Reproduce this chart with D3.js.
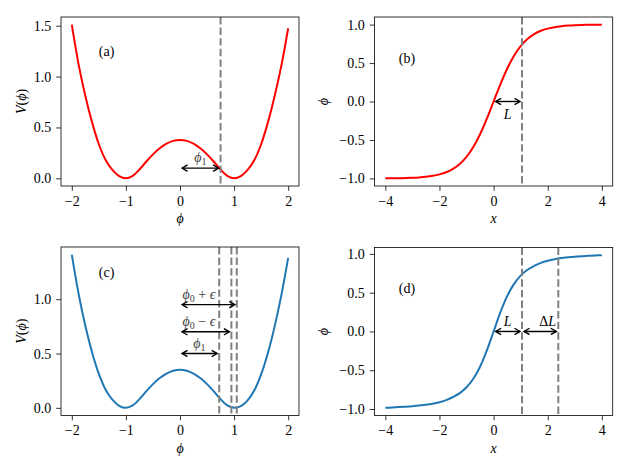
<!DOCTYPE html>
<html>
<head>
<meta charset="utf-8">
<title>Double well potential and kink profiles</title>
<script src="https://cdn.jsdelivr.net/npm/d3@7"></script>
<style>
  html, body { margin: 0; padding: 0; background: #fff; }
  text { font-family: "Liberation Serif", "DejaVu Serif", serif; font-size: 14px; fill: #000; }
  .axis path, .axis line { stroke: #000; stroke-width: 0.8px; }
  .frame { fill: none; stroke: #000; stroke-width: 0.8px; }
  .curve { fill: none; stroke-width: 2px; }
  .guide { stroke: #808080; stroke-width: 2px; stroke-dasharray: 7.4, 3.2; }
  .arrow { stroke: #000; stroke-width: 1.4px; fill: none; }
  .note { fill: #444; }
</style>
</head>
<body>
<script>
// field values, potential panels (a) and (c)
var phiGrid = [-2, -1.875, -1.75, -1.625, -1.5, -1.375, -1.25, -1.125, -1,
               -0.875, -0.75, -0.625, -0.5, -0.375, -0.25, -0.125, 0,
               0.125, 0.25, 0.375, 0.5, 0.625, 0.75, 0.875, 1,
               1.125, 1.25, 1.375, 1.5, 1.625, 1.75, 1.875, 2];
var potentialA = [1.51, 1.12, 0.81, 0.55, 0.335, 0.18, 0.083, 0.022, 0,
                  0.024, 0.086, 0.163, 0.235, 0.295, 0.34, 0.368, 0.377,
                  0.368, 0.34, 0.295, 0.235, 0.163, 0.086, 0.024, 0,
                  0.022, 0.083, 0.18, 0.335, 0.55, 0.81, 1.11, 1.475];
var potentialC = [1.41, 1.05, 0.755, 0.51, 0.312, 0.167, 0.075, 0.019, 0,
                  0.022, 0.08, 0.151, 0.218, 0.274, 0.316, 0.342, 0.35,
                  0.342, 0.316, 0.274, 0.218, 0.151, 0.08, 0.022, 0,
                  0.015, 0.068, 0.162, 0.308, 0.505, 0.75, 1.04, 1.38];

// position values, kink panels (b) and (d)
var xGrid = [-4, -3.75, -3.5, -3.25, -3, -2.75, -2.5, -2.25, -2,
             -1.75, -1.5, -1.25, -1, -0.75, -0.5, -0.25, 0,
             0.25, 0.5, 0.75, 1, 1.25, 1.5, 1.75, 2,
             2.25, 2.5, 2.75, 3, 3.25, 3.5, 3.75, 4];
var kinkB = [-0.999, -0.998, -0.997, -0.995, -0.992, -0.987, -0.979, -0.967, -0.948,
             -0.920, -0.877, -0.813, -0.721, -0.593, -0.426, -0.223, 0,
             0.223, 0.426, 0.593, 0.721, 0.813, 0.877, 0.920, 0.948,
             0.967, 0.979, 0.987, 0.992, 0.995, 0.997, 0.998, 0.999];
var kinkD = [-0.985, -0.979, -0.975, -0.970, -0.964, -0.956, -0.946, -0.932, -0.912,
             -0.885, -0.845, -0.795, -0.72, -0.61, -0.455, -0.245, 0,
             0.245, 0.455, 0.61, 0.72, 0.795, 0.845, 0.885, 0.912,
             0.932, 0.946, 0.956, 0.964, 0.970, 0.975, 0.979, 0.984];

// ticks
var phiTicks = [-2, -1, 0, 1, 2];
var vTicksA = [0, 0.5, 1.0, 1.5];
var vTicksC = [0, 0.5, 1.0];
var xTicks = [-4, -2, 0, 2, 4];
var kinkTicks = [-1, -0.5, 0, 0.5, 1];

// vertical dashed guides
var guidesA = [0.75];
var guidesB = [1.05];
var guidesC = [0.725, 0.95, 1.05];
var guidesD = [1.05, 2.39];

// double arrows: [from, to, level]
var arrowsA = [[0, 0.75, 0.1]];
var arrowsB = [[0, 1.05, 0]];
var arrowsC = [[0, 1.05, 0.95], [0, 0.95, 0.7], [0, 0.725, 0.5]];
var arrowsD = [[0, 1.05, 0], [1.05, 2.39, 0]];

var red = "#ff0000", blue = "#1f77b4";

var svg = d3.select("body").append("svg")
    .attr("width", 631).attr("height", 473);

svg.append("defs").append("marker")
    .attr("id", "head")
    .attr("markerUnits", "userSpaceOnUse")
    .attr("viewBox", "-1 -4 8 8")
    .attr("markerWidth", 8).attr("markerHeight", 8)
    .attr("refX", 5.5).attr("refY", 0)
    .attr("orient", "auto-start-reverse")
    .append("path")
    .attr("d", "M0,-3.2L5.5,0L0,3.2")
    .attr("fill", "none").attr("stroke", "#000").attr("stroke-width", 1.4);

// label helpers: parts = [[text, "i"|"r"|"sub"], ...]
function richText(t, parts) {
    var sub = false;
    parts.forEach(function(p) {
        var s = t.append("tspan").text(p[0]);
        if (p[1] === "i") s.style("font-style", "italic");
        if (p[1] === "sub") {
            s.style("font-size", "10px").attr("dy", 3);
            sub = true;
        } else if (sub) {
            s.attr("dy", -3);
            sub = false;
        }
    });
    return t;
}

var phiSym = "\u03d5", eps = "\u03f5";

function panel(cfg) {
    var b = cfg.box;
    var g = svg.append("g");
    var pad = function(ext) { var d = (ext[1] - ext[0]) * 0.05; return [ext[0] - d, ext[1] + d]; };
    var x = d3.scaleLinear().domain(pad(d3.extent(cfg.xs))).range([b[0], b[2]]);
    var y = d3.scaleLinear().domain(pad(d3.extent(cfg.ys))).range([b[3], b[1]]);

    g.append("g").attr("class", "axis")
        .attr("transform", "translate(0," + b[3] + ")")
        .call(d3.axisBottom(x).tickValues(cfg.xTicks).tickFormat(d3.format("d"))
            .tickSize(4.8).tickSizeOuter(0).tickPadding(5))
        .call(function(a) { a.select(".domain").remove(); })
        .attr("font-size", null).attr("font-family", null);
    g.append("g").attr("class", "axis")
        .attr("transform", "translate(" + b[0] + ",0)")
        .call(d3.axisLeft(y).tickValues(cfg.yTicks).tickFormat(d3.format(".1f"))
            .tickSize(4.8).tickSizeOuter(0).tickPadding(5))
        .call(function(a) { a.select(".domain").remove(); })
        .attr("font-size", null).attr("font-family", null);

    var line = d3.line()
        .x(function(d, i) { return x(cfg.xs[i]); })
        .y(function(d) { return y(d); })
        .curve(d3.curveCatmullRom.alpha(0.5));
    g.append("path").attr("class", "curve")
        .attr("d", line(cfg.ys)).attr("stroke", cfg.color);

    g.selectAll(".guide").data(cfg.guides).enter().append("line")
        .attr("class", "guide")
        .attr("x1", function(d) { return x(d); }).attr("x2", function(d) { return x(d); })
        .attr("y1", b[1]).attr("y2", b[3]);

    g.selectAll(".arrow").data(cfg.arrows).enter().append("line")
        .attr("class", "arrow")
        .attr("x1", function(d) { return x(d[0]) + 2; })
        .attr("x2", function(d) { return x(d[1]) - 2; })
        .attr("y1", function(d) { return y(d[2]); })
        .attr("y2", function(d) { return y(d[2]); })
        .attr("marker-start", "url(#head)")
        .attr("marker-end", "url(#head)");

    cfg.notes.forEach(function(n) {
        richText(g.append("text").attr("class", n.cls || "")
            .attr("text-anchor", n.anchor || "middle")
            .attr("x", x(n.at[0])).attr("y", y(n.at[1]) + n.dy), n.parts);
    });

    g.append("rect").attr("class", "frame")
        .attr("x", b[0]).attr("y", b[1])
        .attr("width", b[2] - b[0]).attr("height", b[3] - b[1]);

    richText(g.append("text").attr("text-anchor", "middle")
        .attr("x", (b[0] + b[2]) / 2).attr("y", b[3] + 37), cfg.xLabel);
    richText(g.append("text").attr("text-anchor", "middle")
        .attr("transform", "translate(" + cfg.yLabelX + "," + ((b[1] + b[3]) / 2) + ") rotate(-90)"),
        cfg.yLabel);
}

var vLabel = [["V", "i"], ["(", "r"], [phiSym, "i"], [")", "r"]];

panel({
    box: [61, 17, 299, 186], xs: phiGrid, ys: potentialA, color: red,
    xTicks: phiTicks, yTicks: vTicksA, guides: guidesA, arrows: arrowsA,
    xLabel: [[phiSym, "i"]], yLabel: vLabel, yLabelX: 26,
    notes: [
        {at: [-1.5, 1.2], dy: 0, anchor: "start", parts: [["(a)", "r"]]},
        {at: [0.375, 0.1], dy: -6.5, cls: "note", parts: [[phiSym, "i"], ["1", "sub"]]}
    ]
});
panel({
    box: [374.5, 17, 612.7, 186], xs: xGrid, ys: kinkB, color: red,
    xTicks: xTicks, yTicks: kinkTicks, guides: guidesB, arrows: arrowsB,
    xLabel: [["x", "i"]], yLabel: [[phiSym, "i"]], yLabelX: 328,
    notes: [
        {at: [-3.5, 0.5], dy: 0, anchor: "start", parts: [["(b)", "r"]]},
        {at: [0.52, 0], dy: 17, parts: [["L", "i"]]}
    ]
});
panel({
    box: [61, 247, 299, 415.5], xs: phiGrid, ys: potentialC, color: blue,
    xTicks: phiTicks, yTicks: vTicksC, guides: guidesC, arrows: arrowsC,
    xLabel: [[phiSym, "i"]], yLabel: vLabel, yLabelX: 26,
    notes: [
        {at: [-1.5, 1.2], dy: 0, anchor: "start", parts: [["(c)", "r"]]},
        {at: [0.35, 0.95], dy: -6, cls: "note", parts: [[phiSym, "i"], ["0", "sub"], [" + ", "r"], [eps, "i"]]},
        {at: [0.35, 0.7], dy: -6, cls: "note", parts: [[phiSym, "i"], ["0", "sub"], [" \u2212 ", "r"], [eps, "i"]]},
        {at: [0.36, 0.5], dy: -6, cls: "note", parts: [[phiSym, "i"], ["1", "sub"]]}
    ]
});
panel({
    box: [374.5, 247.5, 612.7, 415.5], xs: xGrid, ys: kinkD, color: blue,
    xTicks: xTicks, yTicks: kinkTicks, guides: guidesD, arrows: arrowsD,
    xLabel: [["x", "i"]], yLabel: [[phiSym, "i"]], yLabelX: 328,
    notes: [
        {at: [-3.5, 0.5], dy: 0, anchor: "start", parts: [["(d)", "r"]]},
        {at: [0.52, 0], dy: -5, parts: [["L", "i"]]},
        {at: [2.0, 0], dy: -5, parts: [["\u0394", "r"], ["L", "i"]]}
    ]
});
</script>
</body>
</html>
